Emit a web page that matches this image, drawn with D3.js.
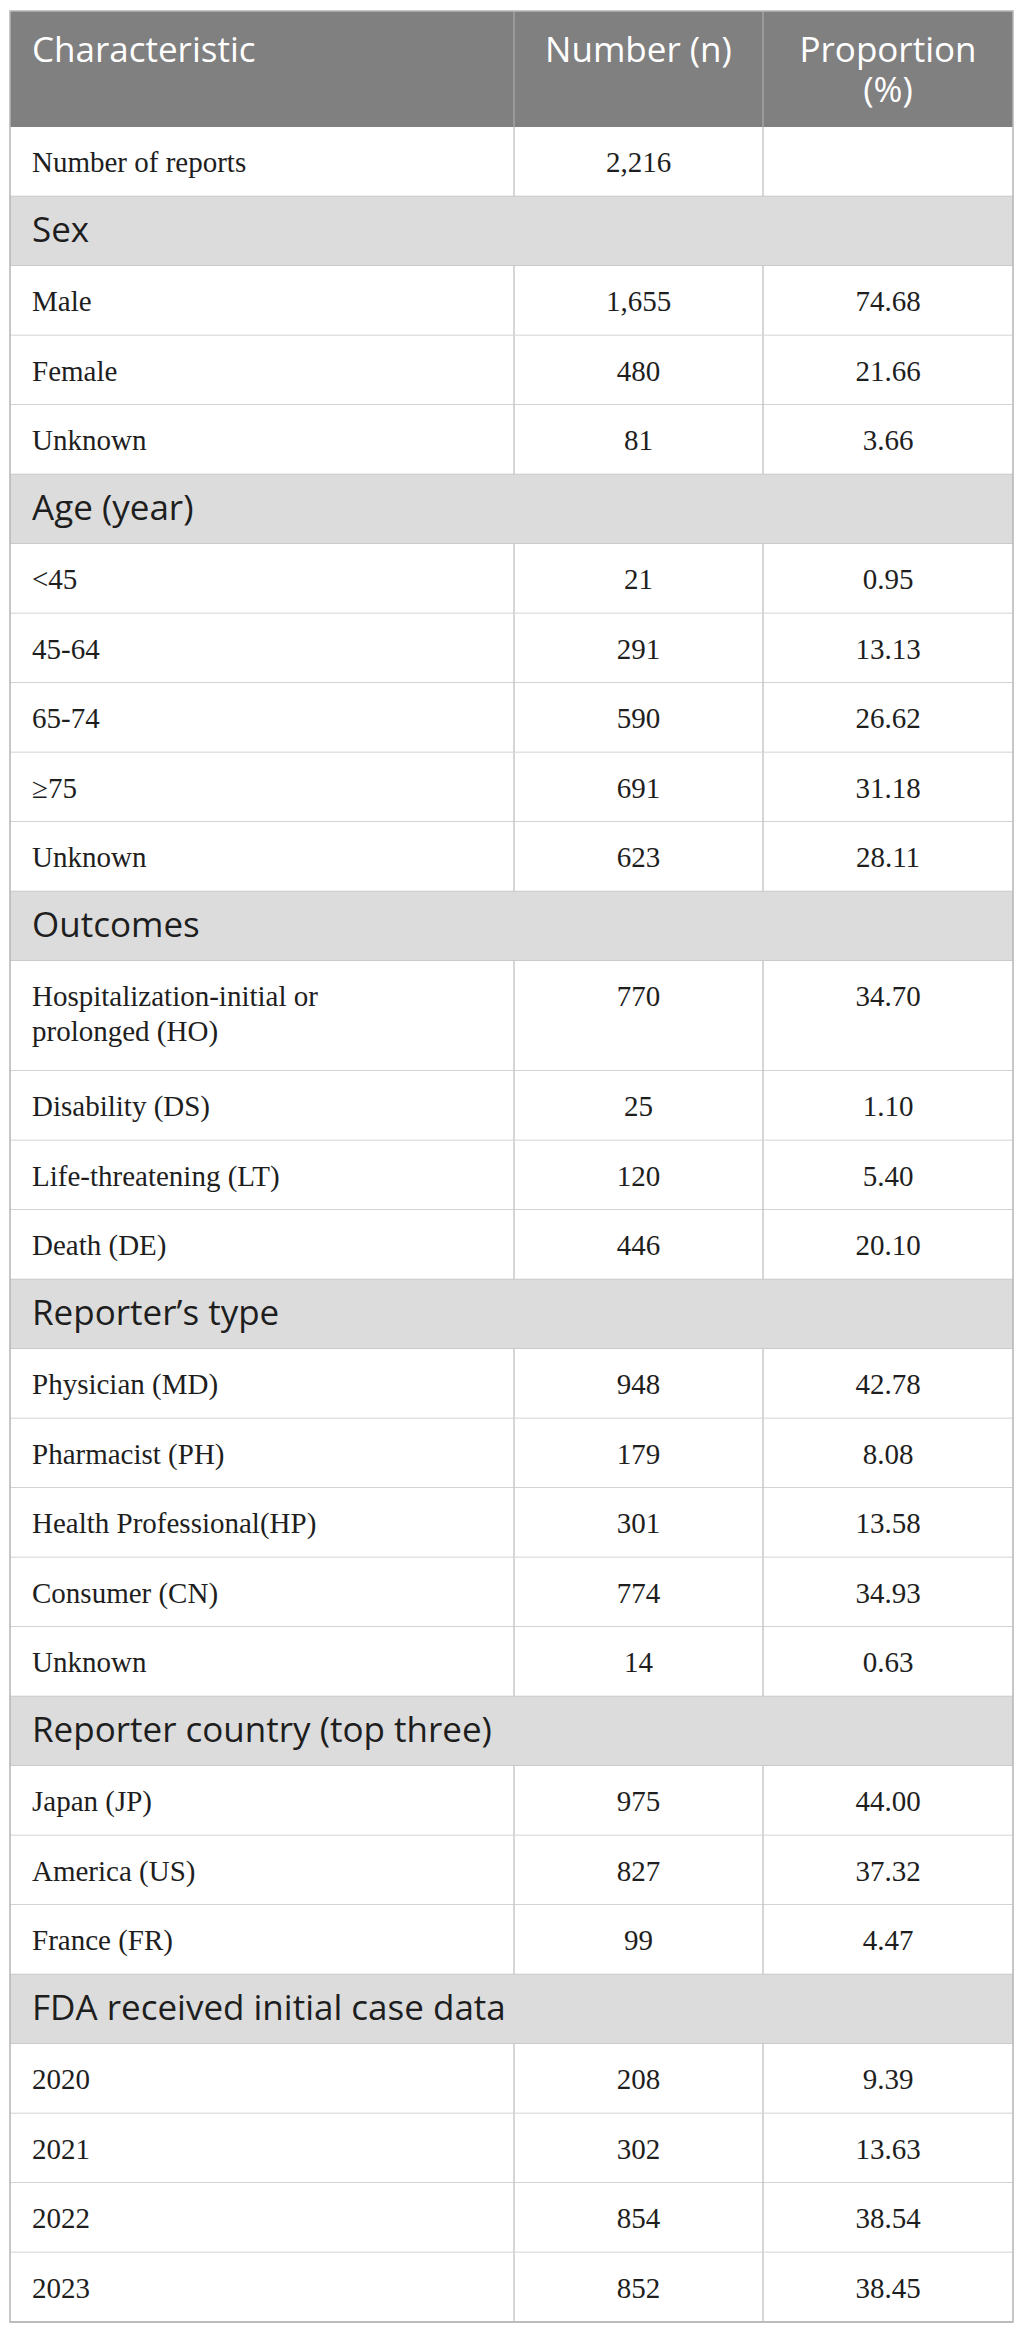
<!DOCTYPE html>
<html>
<head>
<meta charset="utf-8">
<script src="https://cdn.jsdelivr.net/npm/d3@7"></script>
<style>
  body { margin: 0; background: #fff; }
</style>
</head>
<body>
<svg id="table"></svg>
<script>
// Table content
const headerLabels = ["Characteristic", "Number (n)", "Proportion (%)"];
const totalLabel = "Number of reports";
const totalReports = 2216;

const sexLabels = ["Male", "Female", "Unknown"];
const sexCounts = [1655, 480, 81];
const sexPercents = [74.68, 21.66, 3.66];

const ageLabels = ["<45", "45-64", "65-74", "≥75", "Unknown"];
const ageCounts = [21, 291, 590, 691, 623];
const agePercents = [0.95, 13.13, 26.62, 31.18, 28.11];

const outcomeLabels = ["Hospitalization-initial or prolonged (HO)", "Disability (DS)", "Life-threatening (LT)", "Death (DE)"];
const outcomeCounts = [770, 25, 120, 446];
const outcomePercents = [34.70, 1.10, 5.40, 20.10];

const reporterLabels = ["Physician (MD)", "Pharmacist (PH)", "Health Professional(HP)", "Consumer (CN)", "Unknown"];
const reporterCounts = [948, 179, 301, 774, 14];
const reporterPercents = [42.78, 8.08, 13.58, 34.93, 0.63];

const countryLabels = ["Japan (JP)", "America (US)", "France (FR)"];
const countryCounts = [975, 827, 99];
const countryPercents = [44.00, 37.32, 4.47];

const yearLabels = ["2020", "2021", "2022", "2023"];
const yearCounts = [208, 302, 854, 852];
const yearPercents = [9.39, 13.63, 38.54, 38.45];

const sections = [
    { title: "Sex", labels: sexLabels, counts: sexCounts, percents: sexPercents },
    { title: "Age (year)", labels: ageLabels, counts: ageCounts, percents: agePercents },
    { title: "Outcomes", labels: outcomeLabels, counts: outcomeCounts, percents: outcomePercents },
    { title: "Reporter’s type", labels: reporterLabels, counts: reporterCounts, percents: reporterPercents },
    { title: "Reporter country (top three)", labels: countryLabels, counts: countryCounts, percents: countryPercents },
    { title: "FDA received initial case data", labels: yearLabels, counts: yearCounts, percents: yearPercents }
];

// Layout
const width = 1025, height = 2334;
const colEdges = [10, 514, 763, 1013];
const tableTop = 11, headerHeight = 116;
const rowHeight = 69.5, extraLineHeight = 40.5, lineHeight = 35;
const padX = 22, baseline = 45;
const headerBaseline = 51, headerLineHeight = 40;
const labelWrapWidth = 380;

const sansFont = "'Open Sans', sans-serif";
const serifFont = "'Liberation Serif', 'Times New Roman', serif";
const sansSize = 35, serifSize = 29;

const fmtCount = d3.format(",");
const fmtPct = d3.format(".2f");

// measure text for wrapping
const ctx = document.createElement("canvas").getContext("2d");
function wrapLines(str, font, maxWidth) {
    ctx.font = font;
    const words = str.split(" ");
    const lines = [];
    let line = words[0];
    for (let i = 1; i < words.length; i++) {
        const test = line + " " + words[i];
        if (ctx.measureText(test).width > maxWidth) {
            lines.push(line);
            line = words[i];
        } else {
            line = test;
        }
    }
    lines.push(line);
    return lines;
}

// Build row list
const rows = [{ type: "data", label: totalLabel, n: totalReports, pct: null }];
sections.forEach(s => {
    rows.push({ type: "section", label: s.title });
    s.labels.forEach((l, i) => rows.push({ type: "data", label: l, n: s.counts[i], pct: s.percents[i] }));
});

rows.forEach(r => {
    r.lines = r.type === "section" ? [r.label] : wrapLines(r.label, `${serifSize}px ${serifFont}`, labelWrapWidth);
    r.h = rowHeight + (r.lines.length - 1) * extraLineHeight;
});

const offsets = [0, ...d3.cumsum(rows, r => r.h)];
const bodyTop = tableTop + headerHeight;
const y = d3.scaleLinear()
    .domain([0, offsets[offsets.length - 1]])
    .range([bodyTop, bodyTop + offsets[offsets.length - 1]]);
rows.forEach((r, i) => { r.y0 = y(offsets[i]); r.y1 = y(offsets[i + 1]); });
const tableBottom = rows[rows.length - 1].y1;

const colCenter = i => (colEdges[i] + colEdges[i + 1]) / 2;

const svg = d3.select("#table")
    .attr("width", width)
    .attr("height", height);

// Header
const header = svg.append("g").attr("class", "header");
header.append("rect")
    .attr("x", colEdges[0]).attr("y", tableTop)
    .attr("width", colEdges[3] - colEdges[0]).attr("height", headerHeight)
    .attr("fill", "#808080");
header.selectAll("line")
    .data([colEdges[1], colEdges[2]])
    .enter().append("line")
    .attr("x1", d => d).attr("x2", d => d)
    .attr("y1", tableTop).attr("y2", bodyTop)
    .attr("stroke", "#a3a3a3").attr("stroke-width", 1.5);

headerLabels.forEach((label, i) => {
    const colW = colEdges[i + 1] - colEdges[i] - 2 * padX;
    const lines = wrapLines(label, `${sansSize}px ${sansFont}`, colW);
    const t = header.append("text")
        .attr("font-family", sansFont)
        .attr("font-size", sansSize)
        .attr("fill", "#ffffff")
        .attr("text-anchor", i === 0 ? "start" : "middle");
    lines.forEach((l, j) => {
        t.append("tspan")
            .attr("x", i === 0 ? colEdges[0] + padX : colCenter(i))
            .attr("y", tableTop + headerBaseline + j * headerLineHeight)
            .text(l);
    });
});

// Body rows
const rowG = svg.append("g").attr("class", "rows")
    .selectAll("g")
    .data(rows)
    .enter().append("g");

rowG.append("rect")
    .attr("x", colEdges[0]).attr("y", d => d.y0)
    .attr("width", colEdges[3] - colEdges[0]).attr("height", d => d.y1 - d.y0)
    .attr("fill", d => d.type === "section" ? "#dcdcdc" : "#ffffff");

rowG.filter(d => d.type === "data")
    .selectAll("line.vdiv")
    .data(d => [colEdges[1], colEdges[2]].map(x => ({ x, y0: d.y0, y1: d.y1 })))
    .enter().append("line")
    .attr("class", "vdiv")
    .attr("x1", d => d.x).attr("x2", d => d.x)
    .attr("y1", d => d.y0).attr("y2", d => d.y1)
    .attr("stroke", "#c8c8c8").attr("stroke-width", 1.5);

rowG.append("line")
    .attr("x1", colEdges[0]).attr("x2", colEdges[3])
    .attr("y1", d => d.y1).attr("y2", d => d.y1)
    .attr("stroke", "#c4c4c4").attr("stroke-width", 1.5);

// labels
rowG.append("text")
    .attr("font-family", d => d.type === "section" ? sansFont : serifFont)
    .attr("font-size", d => d.type === "section" ? sansSize : serifSize)
    .attr("fill", "#1e1e1e")
    .each(function (d) {
        const t = d3.select(this);
        d.lines.forEach((l, j) => {
            t.append("tspan")
                .attr("x", colEdges[0] + padX)
                .attr("y", d.y0 + baseline + j * lineHeight)
                .text(l);
        });
    });

const dataRows = rowG.filter(d => d.type === "data");
dataRows.append("text")
    .attr("x", colCenter(1))
    .attr("y", d => d.y0 + baseline)
    .attr("text-anchor", "middle")
    .attr("font-family", serifFont)
    .attr("font-size", serifSize)
    .attr("fill", "#1e1e1e")
    .text(d => fmtCount(d.n));

dataRows.append("text")
    .attr("x", colCenter(2))
    .attr("y", d => d.y0 + baseline)
    .attr("text-anchor", "middle")
    .attr("font-family", serifFont)
    .attr("font-size", serifSize)
    .attr("fill", "#1e1e1e")
    .text(d => d.pct === null ? "" : fmtPct(d.pct));

// Outer border
svg.append("rect")
    .attr("x", colEdges[0]).attr("y", tableTop)
    .attr("width", colEdges[3] - colEdges[0])
    .attr("height", tableBottom - tableTop)
    .attr("fill", "none")
    .attr("stroke", "#b5b5b5").attr("stroke-width", 1.5);
</script>
</body>
</html>
